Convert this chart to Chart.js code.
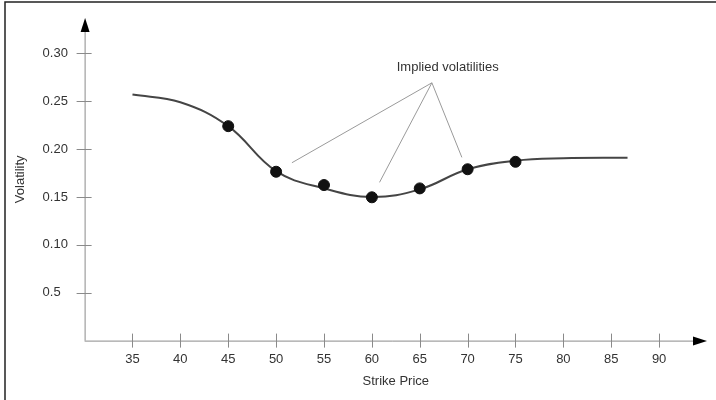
<!DOCTYPE html>
<html>
<head>
<meta charset="utf-8">
<script src="https://cdn.jsdelivr.net/npm/chart.js@4/dist/chart.umd.min.js"></script>
<style>
  body { margin: 0; background: #fff; }
  canvas { display: block; }
</style>
</head>
<body>
<canvas id="smile" width="716" height="400"></canvas>
<script>
// volatility smile curve
const curveStrikes = [35, 40, 45, 50, 55, 60, 65, 70, 75, 80, 86.7];
const curveVols = [0.257, 0.249, 0.224, 0.177, 0.159, 0.150, 0.158, 0.179, 0.188, 0.1905, 0.191];

// implied volatilities (black dots)
const impliedStrikes = [45, 50, 55, 60, 65, 70, 75];
const impliedVols = [0.224, 0.1764, 0.1625, 0.1497, 0.159, 0.179, 0.1868];

// ticks
const xTickValues = [35, 40, 45, 50, 55, 60, 65, 70, 75, 80, 85, 90];
const yTickValues = [0.05, 0.10, 0.15, 0.20, 0.25, 0.30];
const yTickLabels = ['0.5', '0.10', '0.15', '0.20', '0.25', '0.30'];

// annotation: label and pointer lines (in data units)
const noteText = 'Implied volatilities';
const noteApex = { x: 66.27, y: 0.2693 };
const noteEnds = [{ x: 51.65, y: 0.1858 }, { x: 60.8, y: 0.1653 }, { x: 69.4, y: 0.1914 }];
const noteLabelPos = { x: 67.92, y: 0.2852 };

const FONT = "'Liberation Sans', Arial, sans-serif";
const TEXT = '#333';
const AXIS = '#8a8a8a';

// axes with arrows and ticks crossing the line
const axesPlugin = {
    id: 'axes',
    beforeDatasetsDraw(chart) {
        const ctx = chart.ctx;
        const xs = chart.scales.x, ys = chart.scales.y;
        const x0 = xs.getPixelForValue(xs.min);
        const y0 = ys.getPixelForValue(0);
        const xEnd = xs.getPixelForValue(xs.max);
        const yEnd = ys.getPixelForValue(ys.max);

        ctx.save();
        ctx.strokeStyle = AXIS;
        ctx.lineWidth = 1;
        ctx.beginPath();
        ctx.moveTo(x0, y0 + 0.5);
        ctx.lineTo(xEnd - 6, y0 + 0.5);
        ctx.moveTo(x0 + 0.5, y0);
        ctx.lineTo(x0 + 0.5, yEnd + 6);
        xTickValues.forEach(v => {
            const px = Math.round(xs.getPixelForValue(v)) + 0.5;
            ctx.moveTo(px, y0 - 7);
            ctx.lineTo(px, y0 + 7);
        });
        yTickValues.forEach(v => {
            const py = Math.round(ys.getPixelForValue(v)) + 0.5;
            ctx.moveTo(x0 - 8, py);
            ctx.lineTo(x0 + 7, py);
        });
        ctx.stroke();

        // arrow heads
        ctx.fillStyle = '#000';
        ctx.beginPath();
        ctx.moveTo(xEnd, y0 + 0.5);
        ctx.lineTo(xEnd - 14, y0 - 4);
        ctx.lineTo(xEnd - 14, y0 + 5);
        ctx.closePath();
        ctx.fill();
        ctx.beginPath();
        ctx.moveTo(x0 + 0.5, yEnd);
        ctx.lineTo(x0 - 4, yEnd + 14);
        ctx.lineTo(x0 + 5, yEnd + 14);
        ctx.closePath();
        ctx.fill();

        // annotation
        const ax = xs.getPixelForValue(noteApex.x), ay = ys.getPixelForValue(noteApex.y);
        ctx.strokeStyle = '#9a9a9a';
        ctx.beginPath();
        noteEnds.forEach(p => {
            ctx.moveTo(ax, ay);
            ctx.lineTo(xs.getPixelForValue(p.x), ys.getPixelForValue(p.y));
        });
        ctx.stroke();
        ctx.fillStyle = TEXT;
        ctx.font = '13px ' + FONT;
        ctx.textAlign = 'center';
        ctx.textBaseline = 'middle';
        ctx.fillText(noteText, xs.getPixelForValue(noteLabelPos.x), ys.getPixelForValue(noteLabelPos.y));
        ctx.restore();
    },
    afterDraw(chart) {
        // frame of the picture (left and top edges)
        const ctx = chart.ctx;
        ctx.save();
        ctx.strokeStyle = '#222';
        ctx.lineWidth = 1.5;
        ctx.beginPath();
        ctx.moveTo(5, 400);
        ctx.lineTo(5, 2);
        ctx.lineTo(716, 2);
        ctx.stroke();
        ctx.restore();
    }
};

new Chart(document.getElementById('smile').getContext('2d'), {
    type: 'scatter',
    data: {
        datasets: [
            {
                label: 'Implied volatilities',
                data: impliedStrikes.map((s, i) => ({ x: s, y: impliedVols[i] })),
                pointRadius: 5.5,
                pointBackgroundColor: '#111',
                pointBorderColor: '#111',
                showLine: false
            },
            {
                label: 'Volatility smile',
                data: curveStrikes.map((s, i) => ({ x: s, y: curveVols[i] })),
                showLine: true,
                borderColor: '#454545',
                borderWidth: 2,
                pointRadius: 0,
                tension: 0.4
            }
        ]
    },
    plugins: [axesPlugin],
    options: {
        responsive: false,
        animation: false,
        layout: { padding: { left: 7, top: 18, right: 9, bottom: 0 } },
        plugins: {
            legend: { display: false },
            tooltip: { enabled: false },
            title: {
                display: true,
                text: 'Volatility',
                position: 'left',
                fullSize: false,
                color: TEXT,
                font: { family: FONT, size: 13, weight: 'normal' },
                padding: { top: 6, bottom: 14 }
            }
        },
        scales: {
            x: {
                type: 'linear',
                min: 30,
                max: 95,
                grid: { display: false, drawTicks: false },
                border: { display: false },
                afterBuildTicks: scale => { scale.ticks = xTickValues.map(v => ({ value: v })); },
                afterFit: scale => { scale.height = 59.4; },
                ticks: {
                    padding: 11,
                    color: TEXT,
                    font: { family: FONT, size: 13 }
                },
                title: {
                    display: true,
                    text: 'Strike Price',
                    color: TEXT,
                    font: { family: FONT, size: 13 },
                    padding: { top: 4, bottom: 11 }
                }
            },
            y: {
                type: 'linear',
                min: 0,
                max: 0.337,
                grid: { display: false, drawTicks: false },
                border: { display: false },
                afterBuildTicks: scale => { scale.ticks = yTickValues.map(v => ({ value: v })); },
                afterFit: scale => { scale.width = 42; },
                ticks: {
                    crossAlign: 'far',
                    color: TEXT,
                    font: { family: FONT, size: 13 },
                    callback: (value, index) => yTickLabels[index]
                }
            }
        }
    }
});
</script>
</body>
</html>
